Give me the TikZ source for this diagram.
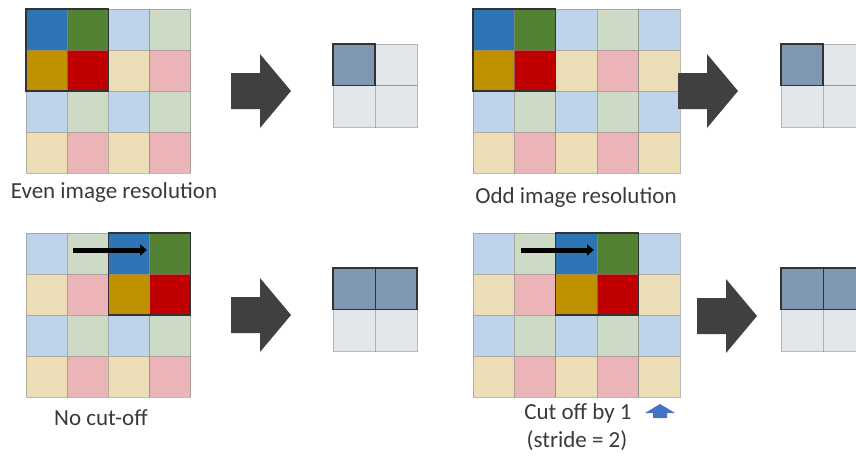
\documentclass[tikz,border=0pt]{standalone}
\usepackage{fontspec}
\setmainfont{Carlito}
\usetikzlibrary{arrows.meta}
% strong colours of the pooled window
\definecolor{cB}{HTML}{2E75B6}
\definecolor{cG}{HTML}{548235}
\definecolor{cY}{HTML}{BF9000}
\definecolor{cR}{HTML}{C00000}
% pale colours of the other pixels
\definecolor{cb}{HTML}{BED4EB}
\definecolor{cg}{HTML}{CDDAC5}
\definecolor{cy}{HTML}{EBDDB5}
\definecolor{cr}{HTML}{EBB5B8}
% output maps
\definecolor{cS}{HTML}{8097B2}
\definecolor{cs}{HTML}{E3E6EB}
\definecolor{arrowgray}{HTML}{404040}
\definecolor{txt}{HTML}{3A3A3A}
\definecolor{upblue}{HTML}{4472C4}
\tikzset{
  cellline/.style={draw=black!45,draw opacity=0.6,line width=0.8pt},
  window/.style={draw=black!80,line width=1.3pt},
  blockarrow/.style={fill=arrowgray},
  caption/.style={text=txt,font=\fontsize{23}{27}\selectfont,inner sep=0pt},
  slide/.style={line width=5pt,-{Triangle[length=7pt,width=11pt]}},
}
% #1,#2: top-left corner; #3,#4: cell width and height; #5: rows of colours
\newcommand\pixelgrid[5]{%
  \foreach \row [count=\j from 0] in {#5} {%
    \foreach \c [count=\i from 0] in \row {%
      \fill[fill=c\c] ({#1+\i*#3},{#2+\j*#4}) rectangle ++(#3,#4);
      \draw[cellline] ({#1+\i*#3},{#2+\j*#4}) rectangle ++(#3,#4);
    }%
  }%
}
% right-pointing block arrow with its tail at (#1,#2), centre line y=#2
\newcommand\bigarrow[2]{%
  \fill[blockarrow] (#1,#2-18) -- (#1+29,#2-18) -- (#1+29,#2-37) -- (#1+60,#2)
    -- (#1+29,#2+37) -- (#1+29,#2+18) -- (#1,#2+18) -- cycle;
}
\begin{document}
\begin{tikzpicture}[x=1pt,y=-1pt]
\useasboundingbox (0,0) rectangle (856,455);

% ---- even resolution ----
\pixelgrid{26}{9}{41.2}{41}{{B,G,b,g},{Y,R,y,r},{b,g,b,g},{y,r,y,r}}
\draw[window] (26,9) rectangle ++(82.4,82);
\bigarrow{231}{91}
\pixelgrid{333}{44}{42}{41.5}{{S,s},{s,s}}
\draw[window] (333,44) rectangle ++(42,41.5);
\node[caption] (even) at (114,192) {Even image resolution};

% ---- odd resolution ----
\pixelgrid{473}{9}{41.4}{41}{{B,G,b,g,b},{Y,R,y,r,y},{b,g,b,g,b},{y,r,y,r,y}}
\draw[window] (473,9) rectangle ++(82.8,82);
\bigarrow{678}{91}
\pixelgrid{781}{44}{42}{41.5}{{S,s},{s,s}}
\draw[window] (781,44) rectangle ++(42,41.5);
\node[caption] (odd) at (576,197) {Odd image resolution};

% ---- no cut-off ----
\pixelgrid{26}{233}{41.2}{41}{{b,g,B,G},{y,r,Y,R},{b,g,b,g},{y,r,y,r}}
\draw[window] (108.4,233) rectangle ++(82.4,82);
\coordinate (s1a) at (73,250);
\coordinate (s1b) at (147,250);
\draw[slide] (s1a) -- (s1b);
\bigarrow{231}{315}
\pixelgrid{333}{268}{42}{41.5}{{S,S},{s,s}}
\draw[window] (333,268) rectangle ++(84,41.5);
\draw[window,line width=1pt] (375,268) -- (375,309.5);
\node[caption] (nocut) at (101,418) {No cut-off};

% ---- cut off by one ----
\pixelgrid{473}{233}{41.4}{41}{{b,g,B,G,b},{y,r,Y,R,y},{b,g,b,g,b},{y,r,y,r,y}}
\draw[window] (555.8,233) rectangle ++(82.8,82);
\coordinate (s2a) at (521,250);
\coordinate (s2b) at (594,250);
\draw[slide] (s2a) -- (s2b);
\bigarrow{697}{316}
\pixelgrid{781}{268}{42}{41.5}{{S,S},{s,s}}
\draw[window] (781,268) rectangle ++(84,41.5);
\draw[window,line width=1pt] (823,268) -- (823,309.5);
\node[caption] (cut) at (578,413) {Cut off by 1};
\node[caption] (stride) at (577,441) {(stride = 2)};
\fill[upblue] (660,404) -- (675,413) -- (667,413) -- (667,418) -- (653,418)
  -- (653,413) -- (645,413) -- cycle;
\end{tikzpicture}
\end{document}
